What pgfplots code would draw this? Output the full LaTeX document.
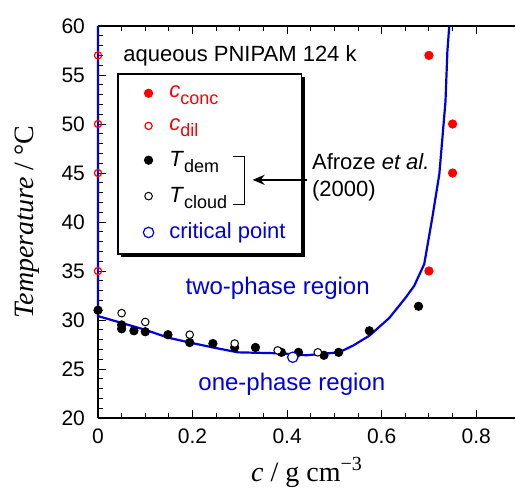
\documentclass[border=0pt]{standalone}
\usepackage{pgfplots}
\pgfplotsset{compat=1.18}
\usepackage{fontspec}
\setmainfont{Liberation Sans}
\newfontfamily\serif{Liberation Serif}
\usetikzlibrary{shadows,arrows.meta}
\definecolor{cblue}{RGB}{0,0,220}
\definecolor{cred}{RGB}{255,0,0}
\newcommand\sub[1]{\raisebox{-3.3pt}{\fontsize{9}{9}\selectfont #1}}

\begin{document}
\begin{tikzpicture}
\path[use as bounding box] (-49pt,-35pt) rectangle (209pt,209pt);
\begin{axis}[
  at={(0,0)}, anchor=south west,
  scale only axis, width=208.5pt, height=196pt,
  xmin=0, xmax=0.882, ymin=20, ymax=60,
  axis x line=box, axis y line*=left,
  xtick={0,0.2,0.4,0.6,0.8}, minor x tick num=3,
  ytick={20,25,30,35,40,45,50,55,60}, minor y tick num=4,
  major tick length=4pt, minor tick length=2.5pt,
  tick style={black, line width=0.5pt},
  axis line style={black, line width=0.6pt},
  tick label style={font=\fontsize{10.5}{12}\selectfont},
  xticklabel style={yshift=-2pt},
  yticklabel style={xshift=-3pt},
  /pgf/number format/assume math mode=true,
  clip=false,
  xlabel={\serif\fontsize{14}{14}\selectfont\itshape c \upshape/ g cm\raisebox{0.42em}{\fontsize{10}{10}\selectfont −3}},
  ylabel={\serif\fontsize{14}{14}\selectfont\itshape Temperature\/ \upshape/ °C},
  xlabel style={at={(axis description cs:0.5,0)}, anchor=base, yshift=-32pt},
  ylabel style={at={(axis description cs:-0.17,0.5)}, anchor=center},
  legend style={at={(axis description cs:0.0455,0.880)}, anchor=north west,
    draw=black, line width=0.8pt, fill=white,
    drop shadow={fill=black, opacity=1, shadow xshift=1.6pt, shadow yshift=-1.6pt},
    font=\fontsize{11}{13}\selectfont, row sep=4.9pt,
    inner xsep=6pt, inner ysep=4pt},
  legend cell align=left,
  legend image code/.code={\path (0pt,0pt) (17pt,0pt); \draw[#1] plot coordinates {(9pt,0pt)};},
]
% binodal curve
\addplot[cblue, line width=1.1pt, mark=none, forget plot] coordinates {
  (0,60) (0,30.4) (0.05,29.7) (0.1,29.0) (0.148,28.2) (0.194,27.7)
  (0.243,27.2) (0.296,26.7) (0.386,26.6) (0.44,26.4) (0.51,26.7)
  (0.54,27.4) (0.574,28.4) (0.616,30.2) (0.651,32.3) (0.669,33.5)
  (0.69,35.7) (0.707,40.4) (0.722,44.9) (0.728,48.3) (0.735,52.3)
  (0.739,57.4) (0.743,60)
};
\addplot[only marks, mark=*, mark size=2.1pt, mark options={fill=cred, draw=cred, line width=0.4pt}] coordinates {
  (0.70,57) (0.75,50) (0.75,45) (0.70,35)
};
\addlegendentry{\textcolor{cred}{\textit{c}\sub{conc}}}
\addplot[only marks, mark=o, mark size=1.8pt, mark options={fill=white, draw=cred, line width=0.6pt}] coordinates {
  (0,57) (0,50) (0,45) (0,35)
};
\addlegendentry{\textcolor{cred}{\textit{c}\sub{dil}}}
\addplot[only marks, mark=*, mark size=2.1pt, mark options={fill=black, draw=black, line width=0.4pt}] coordinates {
  (0,31) (0.05,29.5) (0.05,29.1) (0.076,28.9) (0.10,28.8) (0.148,28.5)
  (0.194,27.7) (0.243,27.6) (0.289,27.2) (0.333,27.2) (0.388,26.7)
  (0.424,26.7) (0.478,26.4) (0.509,26.7) (0.574,28.9) (0.678,31.4)
};
\addlegendentry{\textit{T}\sub{dem}}
\addplot[only marks, mark=*, mark size=1.9pt, mark options={fill=white, draw=black, line width=0.5pt}] coordinates {
  (0.05,30.7) (0.10,29.8) (0.194,28.5) (0.289,27.6) (0.38,26.9) (0.465,26.7)
};
\addlegendentry{\textit{T}\sub{cloud}}
\addplot[only marks, mark=*, mark size=2.6pt, mark options={fill=white, draw=cblue, line width=0.6pt}] coordinates {
  (0.412,26.2)
};
\addlegendentry{\textcolor{cblue}{critical point}}

\node[anchor=base west, inner sep=0pt, font=\fontsize{11}{13}\selectfont] at (axis cs:0.053,56.4) {aqueous PNIPAM 124 k};
\node[cblue, font=\fontsize{12}{14}\selectfont] at (axis cs:0.38,33.2) {two-phase region};
\node[cblue, font=\fontsize{12}{14}\selectfont] at (axis cs:0.41,23.4) {one-phase region};
\node[anchor=west, align=left, inner sep=0pt, font=\fontsize{11}{13.5}\selectfont] at (axis cs:0.452,44.55) {Afroze \textit{et al.}\\(2000)};
\coordinate (bt0) at (axis cs:0.285,46.7);
\coordinate (bt1) at (axis cs:0.310,46.7);
\coordinate (bb1) at (axis cs:0.310,41.8);
\coordinate (bb0) at (axis cs:0.285,41.8);
\coordinate (a0) at (axis cs:0.443,44.3);
\coordinate (a1) at (axis cs:0.327,44.3);
\end{axis}
\draw[line width=0.5pt] (bt0) -- (bt1) -- (bb1) -- (bb0);
\draw[line width=1pt, -{Stealth[length=6pt,width=5pt]}] (a0) -- (a1);
\end{tikzpicture}
\end{document}
